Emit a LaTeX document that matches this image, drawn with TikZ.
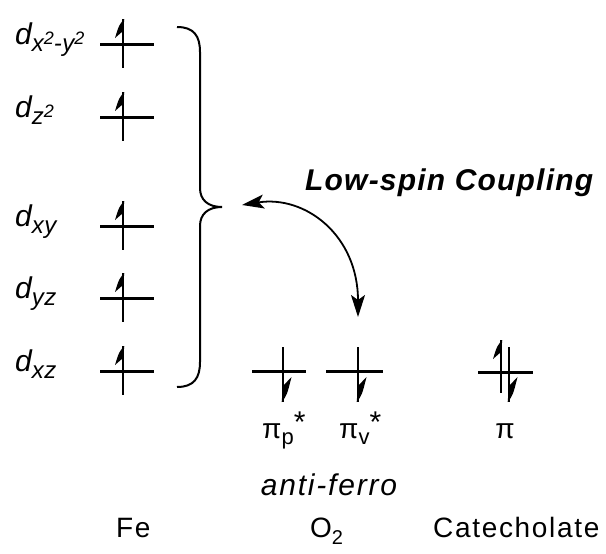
\documentclass[tikz,border=0pt]{standalone}
\usepackage{fontspec}
\setmainfont{Liberation Sans}
\newfontfamily\lsA[LetterSpace=6]{Liberation Sans}
\newfontfamily\lsB[LetterSpace=4]{Liberation Sans}
\newfontfamily\lsC[LetterSpace=2]{Liberation Sans}
\usetikzlibrary{arrows.meta}
\tikzset{coupletip/.tip={Stealth[length=22pt,width=14pt,inset=5pt]}}
\newcommand\dlab[1]{\lsC\itshape d\raisebox{-7pt}{\fontsize{24}{24}\selectfont #1}}
\newcommand\sqr{\raisebox{7pt}{\fontsize{18}{18}\selectfont 2}}
\newcommand\spinup[3]{%
  \draw[stem] (#1,#2) -- (#1,#3);
  \fill (#1+1.3,#2) .. controls (#1-4,#2+6) .. (#1-8,#2+19) -- (#1,#2+12) -- cycle;}
\newcommand\spindown[3]{%
  \draw[stem] (#1,#2) -- (#1,#3);
  \fill (#1-1.3,#3) .. controls (#1+4,#3-7) .. (#1+8.5,#3-25) -- (#1,#3-16) -- cycle;}
\begin{document}
\begin{tikzpicture}[x=1pt,y=-1pt,
  lvl/.style={line width=3pt},
  stem/.style={line width=2.6pt},
  lab/.style={inner sep=0pt, font=\fontsize{30}{30}\selectfont},
  pil/.style={inner sep=0pt, font=\fontsize{28}{28}\selectfont},
  big/.style={inner sep=0pt, font=\lsA\fontsize{28}{28}\selectfont}]
\useasboundingbox (0,0) rectangle (606,554);
% Fe levels
\foreach \y in {44,117,226,298,371}{
  \draw[lvl] (100,\y) -- (154,\y);
  \spinup{123}{\y-25}{\y+24}
}
\node[lab, anchor=base west] (dx2) at (15,44) {\dlab{x\sqr-y\sqr}};
\node[lab, anchor=base west] (dz2) at (15,117) {\dlab{z\sqr}};
\node[lab, anchor=base west] (dxy) at (15,226) {\dlab{xy}};
\node[lab, anchor=base west] (dyz) at (15,298) {\dlab{yz}};
\node[lab, anchor=base west] (dxz) at (15,371) {\dlab{xz}};
% brace
\draw[line width=2pt] (177,27) .. controls (194,27) and (200,36) .. (200,52) -- (200,188)
  .. controls (200,200) and (208,207) .. (222,207)
  .. controls (208,207) and (200,214) .. (200,226) -- (200,362)
  .. controls (200,378) and (194,387) .. (177,387);
% O2 levels
\draw[lvl] (252,371) -- (306,371);
\spindown{283}{347}{402}
\draw[lvl] (326,371) -- (383,371);
\spindown{358}{347}{402}
% catecholate
\draw[lvl] (478,372) -- (533,372);
\spinup{501}{340}{393}
\spindown{509}{347}{402}
% coupling arrow
\coordinate (arrL) at (242,205);
\coordinate (arrD) at (358,317);
\draw[line width=1.8pt, {coupletip}-{coupletip}]
  (arrL) .. controls (305,195) and (358,235) .. (arrD);
\node[inner sep=0pt, anchor=base west, font=\lsB\bfseries\itshape\fontsize{30}{30}\selectfont] (ls) at (305,190) {Low-spin Coupling};
% pi labels
\node[pil, anchor=base west] (pp) at (262,438) {π\raisebox{-6pt}{\fontsize{22}{22}\selectfont p}\raisebox{6pt}{\fontsize{30}{30}\selectfont *}};
\node[pil, anchor=base west] (pv) at (339,438) {π\raisebox{-6pt}{\fontsize{22}{22}\selectfont v}\raisebox{6pt}{\fontsize{30}{30}\selectfont *}};
\node[pil, anchor=base] (pc) at (505,438) {π};
\node[inner sep=0pt, anchor=base, font=\lsA\itshape\fontsize{30}{30}\selectfont] (af) at (329,495) {anti-ferro};
% bottom labels
\node[big, anchor=base west] (fe) at (116,537) {Fe};
\node[big, anchor=base west] (o2) at (310,537) {O\raisebox{-7pt}{\fontsize{20}{20}\selectfont 2}};
\node[big, anchor=base west] (cat) at (433,537) {Catecholate};
\end{tikzpicture}
\end{document}
